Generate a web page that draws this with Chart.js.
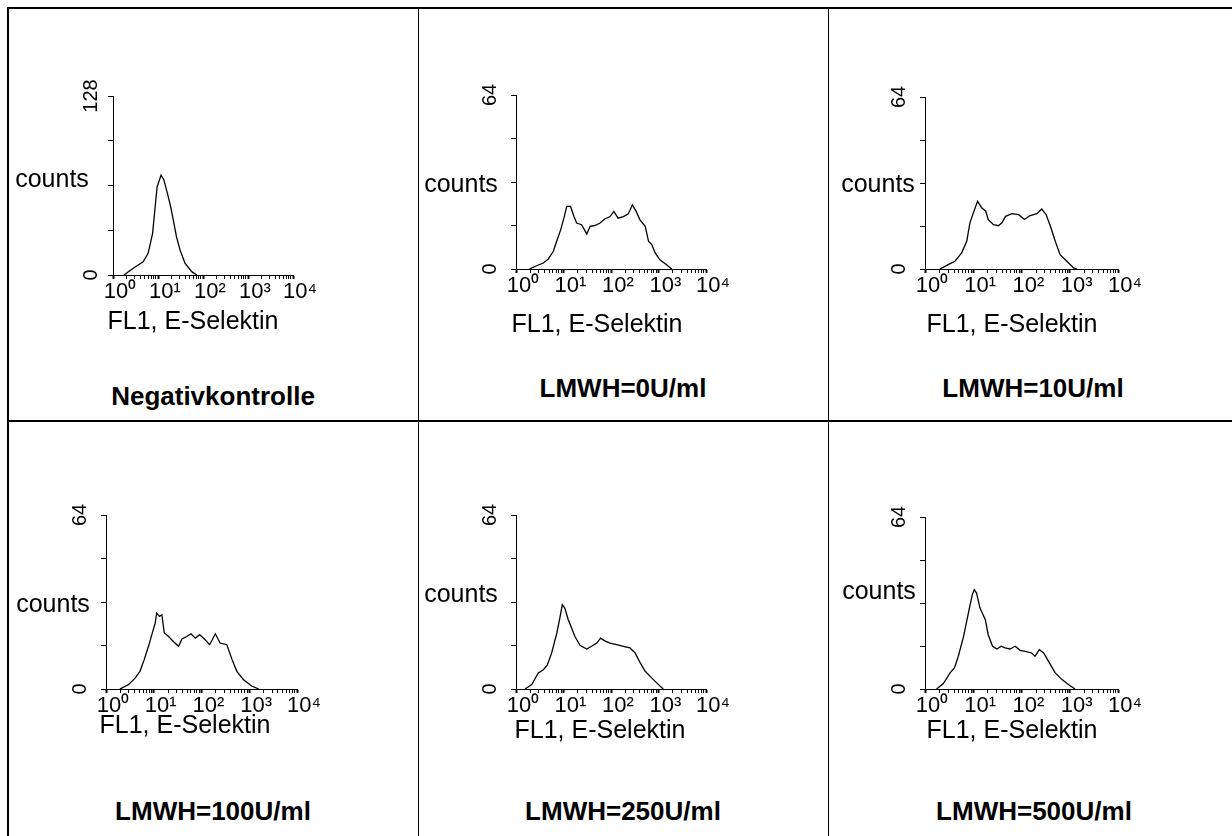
<!DOCTYPE html>
<html>
<head>
<meta charset="utf-8">
<script src="https://cdn.jsdelivr.net/npm/chart.js@4/dist/chart.umd.min.js"></script>
<style>
  html, body { margin:0; padding:0; background:#fff; }
  body { width:1232px; height:836px; position:relative; overflow:hidden; font-family:'Liberation Sans', Arial, sans-serif; color:#000; }
  .ln { position:absolute; background:#000; }
  canvas { position:absolute; }
  .t { position:absolute; white-space:nowrap; line-height:1; transform:translateX(-50%); }
  .lab { font-size:25px; }
  .cond { font-size:26px; font-weight:bold; }
</style>
</head>
<body>
<script>
// ---------------- data ----------------
const conditions = ['Negativkontrolle', 'LMWH=0U/ml', 'LMWH=10U/ml', 'LMWH=100U/ml', 'LMWH=250U/ml', 'LMWH=500U/ml'];
const xAxisTitle = 'FL1, E-Selektin';
const yAxisTitle = 'counts';
const decadeLabels = ['10\u2070', '10\u00B9', '10\u00B2', '10\u00B3', '10\u2074'];
const yMaxima = [128, 64, 64, 64, 64, 64];

// FL1 intensity (x) and counts (y)
const fl1_neg    = [1.75, 2.82, 4.68, 6.03, 7.59, 8.51, 9.55, 11.7, 13.5, 16.2, 19.1, 21.9, 25.7, 30.9, 39.8, 56.2, 72.4];
const counts_neg = [0, 4.8, 9.5, 15.5, 29.8, 46.5, 63, 71.5, 68, 58.4, 48.9, 39.3, 27.4, 17.9, 8.4, 2.4, 0];

const fl1_0U    = [1.91, 2.72, 3.76, 4.79, 6.11, 7.18, 8.71, 10.2, 11.7, 14.1, 16.6, 18.9, 24.0, 30.9, 36.3, 45.7, 58.9, 74.1, 95.5, 115, 141, 182, 232, 282, 339, 407, 525, 617, 724, 851, 1072, 1479, 1905];
const counts_0U = [0, 1.2, 2.2, 3.7, 6.5, 10.2, 14.4, 18.7, 23.0, 23.0, 19.3, 16.9, 16.3, 12.9, 15.7, 16.0, 16.9, 18.4, 19.3, 21.2, 18.7, 19.3, 20.3, 23.6, 21.2, 18.1, 15.7, 10.2, 8.9, 5.9, 3.4, 1.6, 0];

const fl1_10U    = [2.04, 3.02, 4.17, 5.75, 7.33, 8.51, 10, 12.3, 15.1, 18.2, 20.4, 26.3, 33.1, 38.9, 46.8, 63.1, 87.1, 115, 151, 209, 263, 324, 398, 501, 631, 871, 1202, 1413];
const counts_10U = [0, 1.6, 2.9, 6.0, 10.3, 17.1, 20.8, 25.2, 22.7, 21.5, 18.4, 16.5, 16.1, 17.1, 19.6, 20.6, 20.2, 18.4, 19.9, 20.6, 22.3, 20.2, 15.9, 10.3, 5.3, 2.9, 0.4, 0];

const fl1_100U    = [1.95, 2.95, 4.07, 5.13, 6.31, 7.76, 9.12, 10.7, 11.5, 13.2, 14.8, 16.6, 20.4, 25.7, 33.1, 38.9, 49.0, 60.3, 74.1, 91.2, 115, 148, 195, 245, 339, 437, 550, 759, 1148, 1585];
const counts_100U = [0, 1.6, 4.0, 6.5, 10.8, 15.7, 20.0, 24.2, 27.9, 26.7, 27.3, 20.6, 19.3, 17.5, 15.7, 18.4, 19.3, 20.3, 18.7, 20.0, 18.4, 16.3, 20.3, 16.9, 16.3, 10.8, 6.5, 3.4, 1.0, 0];

const fl1_250U    = [1.55, 2.14, 2.95, 3.76, 4.57, 5.62, 7.24, 8.51, 9.44, 10.7, 12.6, 14.8, 17.4, 22.4, 30.9, 38.9, 50.1, 60.3, 74.1, 95.5, 132, 182, 251, 324, 407, 525, 724, 1000, 1259];
const counts_250U = [0, 1.6, 5.9, 7.1, 8.9, 13.2, 20.6, 26.7, 31.0, 29.7, 25.5, 22.4, 19.3, 16.0, 14.7, 15.7, 16.9, 18.7, 17.7, 16.9, 16.3, 15.7, 15.1, 13.2, 9.8, 6.5, 4.0, 1.6, 0];

const fl1_500U    = [1.74, 2.40, 3.31, 4.07, 4.90, 6.31, 7.94, 9.55, 10.5, 11.7, 13.8, 17.8, 20.4, 25.1, 30.9, 38.0, 45.7, 57.5, 74.1, 93.3, 120, 162, 191, 234, 288, 363, 501, 692, 955, 1288];
const counts_500U = [0, 2.0, 6.0, 7.8, 12.2, 19.6, 28.3, 35.1, 37.0, 35.7, 30.1, 25.8, 20.2, 15.9, 14.9, 15.9, 15.3, 14.9, 15.9, 14.4, 14.0, 13.4, 12.2, 14.6, 13.4, 10.3, 6.0, 3.5, 1.6, 0];

const seriesX = [fl1_neg, fl1_0U, fl1_10U, fl1_100U, fl1_250U, fl1_500U];
const seriesY = [counts_neg, counts_0U, counts_10U, counts_100U, counts_250U, counts_500U];

// ---------------- layout (page pixels) ----------------
const plotBoxes = [ // [yAxisX, xAxisEnd, zeroY, topY]
  [113, 293, 275, 96],
  [516, 706, 269, 95],
  [925, 1118, 269, 97],
  [106, 297, 689, 515],
  [516, 706, 689, 515],
  [925, 1118, 689, 517]
];
const countsPos = [[52,178],[461,183],[878,183],[53,603],[461,593],[879,590]];
const titlePos  = [[193,320],[597,323],[1012,323],[185,724],[600,729],[1012,729]];
const condPos   = [[213,396],[623,388],[1033,388],[213,811],[623,811],[1034,811]];

const FONT = "'Liberation Sans', Arial, sans-serif";

// table lines
function line(l, t, w, h) {
  const d = document.createElement('div'); d.className = 'ln';
  d.style.left = l + 'px'; d.style.top = t + 'px'; d.style.width = w + 'px'; d.style.height = h + 'px';
  document.body.appendChild(d);
}
line(7, 7, 1225, 2);
line(7, 7, 2, 829);
line(418, 8, 1, 828);
line(828, 8, 1, 828);
line(8, 420, 1224, 2);

function text(cls, str, cx, cy, fs) {
  const d = document.createElement('div'); d.className = 't ' + cls;
  d.textContent = str;
  d.style.left = cx + 'px';
  d.style.top = (cy - 0.49 * fs) + 'px';
  document.body.appendChild(d);
}

const YW = 60, PT = 25, PR = 35, XH = 35;
const isDecade = v => Math.abs(Math.log10(v) - Math.round(Math.log10(v))) < 1e-9;

plotBoxes.forEach((b, i) => {
  const [x0, x1, y0, yTop] = b;
  const ymax = yMaxima[i];
  const cv = document.createElement('canvas');
  const W = YW + (x1 - x0) + PR, H = PT + (y0 - yTop) + XH;
  cv.width = W; cv.height = H;
  cv.style.width = W + 'px'; cv.style.height = H + 'px';
  cv.style.left = (x0 - YW) + 'px'; cv.style.top = (yTop - PT) + 'px';
  document.body.appendChild(cv);

  const xs = seriesX[i], ys = seriesY[i];
  new Chart(cv, {
    type: 'line',
    data: { datasets: [{
      data: xs.map((x, k) => ({ x: x, y: ys[k] })),
      borderColor: '#000', borderWidth: 1.3, pointRadius: 0, tension: 0, fill: false
    }]},
    options: {
      responsive: false, animation: false, devicePixelRatio: 1,
      layout: { padding: { left: 0, top: PT, right: PR, bottom: 0 } },
      plugins: { legend: { display: false }, tooltip: { enabled: false } },
      scales: {
        x: {
          type: 'logarithmic', min: 1, max: 10000,
          afterFit: s => { s.height = XH; },
          afterBuildTicks: s => {
            const t = [];
            for (let d = 0; d < 4; d++) for (let m = 1; m <= 9; m++) t.push({ value: m * Math.pow(10, d), major: m === 1 });
            t.push({ value: 10000, major: true });
            s.ticks = t;
          },
          grid: { display: true, drawOnChartArea: false, drawTicks: true, tickLength: 4, color: '#000',
                  tickWidth: c => (c.tick && c.tick.major) ? 2 : 1 },
          border: { display: true, color: '#000', width: 1 },
          ticks: {
            autoSkip: false, maxRotation: 0, minRotation: 0, padding: 0, labelOffset: 7,
            color: '#000', font: { family: FONT, size: 22 },
            callback: v => isDecade(v) ? decadeLabels[Math.round(Math.log10(v))] : ''
          }
        },
        y: {
          type: 'linear', min: 0, max: ymax,
          afterFit: s => { s.width = YW; },
          grid: { display: true, drawOnChartArea: false, drawTicks: true, tickLength: 5, color: '#000' },
          border: { display: true, color: '#000', width: 1 },
          ticks: {
            stepSize: ymax / 4, minRotation: 90, maxRotation: 90, crossAlign: 'center',
            padding: ymax >= 100 ? 0 : 9,
            color: '#000', font: { family: FONT, size: 20 },
            callback: v => (v === 0 || v === ymax) ? String(v) : ''
          }
        }
      }
    }
  });

  text('lab', yAxisTitle, countsPos[i][0], countsPos[i][1], 25);
  text('lab', xAxisTitle, titlePos[i][0], titlePos[i][1], 25);
  text('cond', conditions[i], condPos[i][0], condPos[i][1], 26);
});
</script>
</body>
</html>
